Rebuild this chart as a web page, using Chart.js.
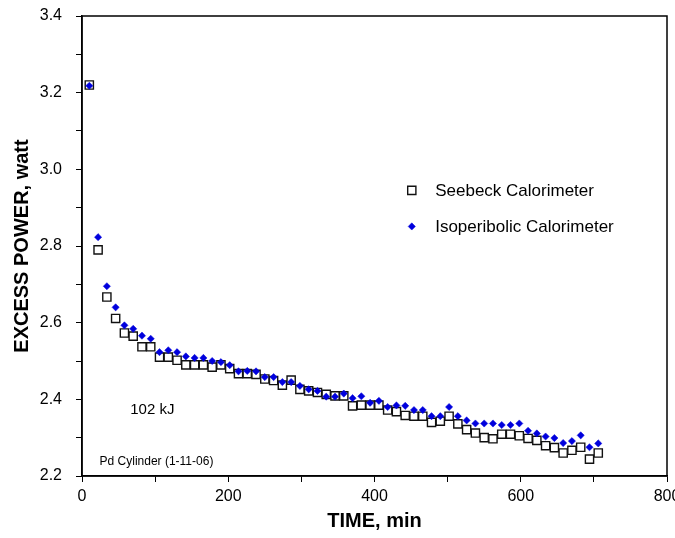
<!DOCTYPE html>
<html>
<head>
<meta charset="utf-8">
<script src="https://cdn.jsdelivr.net/npm/chart.js@4.4.1/dist/chart.umd.min.js"></script>
<style>
  html, body { margin: 0; padding: 0; background: #fff; }
</style>
</head>
<body>
<canvas id="myChart" width="675" height="538"></canvas>
<script>
// time of each reading, min
const times = [10, 22, 34, 46, 58, 70, 82, 94, 106, 118, 130, 142, 154, 166, 178, 190, 202, 214, 226, 238,
  250, 262, 274, 286, 298, 310, 322, 334, 346, 358, 370, 382, 394, 406, 418, 430, 442, 454, 466, 478,
  490, 502, 514, 526, 538, 550, 562, 574, 586, 598, 610, 622, 634, 646, 658, 670, 682, 694, 706];

// excess power, watt
const seebeck = [3.220, 2.790, 2.667, 2.611, 2.573, 2.565, 2.537, 2.537, 2.510, 2.510,
  2.502, 2.490, 2.490, 2.490, 2.484, 2.490, 2.480, 2.467, 2.467, 2.465,
  2.453, 2.449, 2.437, 2.450, 2.426, 2.422, 2.418, 2.413, 2.409, 2.409,
  2.383, 2.385, 2.385, 2.385, 2.372, 2.368, 2.358, 2.356, 2.356, 2.340,
  2.343, 2.356, 2.336, 2.321, 2.312, 2.300, 2.297, 2.309, 2.309, 2.305,
  2.298, 2.293, 2.279, 2.274, 2.260, 2.267, 2.275, 2.244, 2.260];

const isoperibolic = [3.218, 2.823, 2.695, 2.640, 2.593, 2.584, 2.566, 2.558, 2.523, 2.528,
  2.523, 2.512, 2.508, 2.508, 2.500, 2.497, 2.489, 2.473, 2.474, 2.473,
  2.458, 2.458, 2.445, 2.445, 2.435, 2.426, 2.422, 2.407, 2.407, 2.415,
  2.403, 2.408, 2.391, 2.396, 2.380, 2.384, 2.383, 2.372, 2.372, 2.356,
  2.356, 2.380, 2.356, 2.345, 2.337, 2.337, 2.337, 2.333, 2.333, 2.337,
  2.318, 2.311, 2.303, 2.299, 2.286, 2.291, 2.306, 2.275, 2.285];

const seriesNames = ["Seebeck Calorimeter", "Isoperibolic Calorimeter"];
const yTicks = [2.2, 2.4, 2.6, 2.8, 3.0, 3.2, 3.4];
const xTicks = [0, 200, 400, 600, 800];
const notes = ["102 kJ", "Pd Cylinder (1-11-06)"];

const FONT = "'Liberation Sans', Arial, sans-serif";

function toPoints(ys) {
  return ys.map((y, i) => ({ x: times[i], y: y }));
}

// box round the plot, the legend and the two notes
const extras = {
  id: "extras",
  afterDatasetsDraw(chart) {
    const { ctx, chartArea: a, scales: { x, y } } = chart;
    ctx.save();
    ctx.strokeStyle = "#000";
    ctx.lineWidth = 1.5;
    ctx.strokeRect(a.left, a.top, a.right - a.left, a.bottom - a.top);

    // legend
    const lx = x.getPixelForValue(451);
    const tx = x.getPixelForValue(483);
    const rows = [y.getPixelForValue(2.945), y.getPixelForValue(2.851)];
    chart.data.datasets.forEach((ds, i) => {
      ctx.fillStyle = ds.backgroundColor;
      ctx.strokeStyle = ds.borderColor;
      ctx.lineWidth = ds.borderWidth;
      Chart.helpers.drawPoint(ctx, {
        pointStyle: ds.pointStyle,
        radius: ds.pointRadius,
        borderWidth: ds.borderWidth,
        rotation: 0
      }, lx, rows[i]);
      ctx.fillStyle = "#000";
      ctx.font = "17px " + FONT;
      ctx.textBaseline = "middle";
      ctx.textAlign = "left";
      ctx.fillText(ds.label, tx, rows[i] + 1);
    });

    ctx.fillStyle = "#000";
    ctx.font = "15px " + FONT;
    ctx.textBaseline = "middle";
    ctx.fillText(notes[0], x.getPixelForValue(66), y.getPixelForValue(2.373));
    ctx.font = "12px " + FONT;
    ctx.fillText(notes[1], x.getPixelForValue(24), y.getPixelForValue(2.237));
    ctx.restore();
  }
};

new Chart(document.getElementById("myChart").getContext("2d"), {
  type: "scatter",
  data: {
    datasets: [
      {
        label: seriesNames[0],
        data: toPoints(seebeck),
        pointStyle: "rect",
        pointRadius: 5.8,
        pointHoverRadius: 5.8,
        backgroundColor: "#ffffff",
        borderColor: "#111111",
        borderWidth: 1.4,
        order: 1
      },
      {
        label: seriesNames[1],
        data: toPoints(isoperibolic),
        pointStyle: "rectRot",
        pointRadius: 3.6,
        pointHoverRadius: 3.6,
        backgroundColor: "#0000dd",
        borderColor: "#0000dd",
        borderWidth: 0.5,
        order: 0
      }
    ]
  },
  options: {
    responsive: false,
    animation: false,
    devicePixelRatio: 1,
    layout: { padding: { left: 0, right: 8, top: 16, bottom: 0 } },
    plugins: {
      legend: { display: false },
      tooltip: { enabled: false }
    },
    scales: {
      x: {
        type: "linear",
        min: 0,
        max: 800,
        ticks: {
          stepSize: 100,
          color: "#000",
          font: { family: FONT, size: 16 },
          padding: 5,
          maxRotation: 0,
          callback: (v) => (xTicks.includes(v) ? String(v) : "")
        },
        grid: { drawOnChartArea: false, drawTicks: true, tickLength: 6, tickColor: "#000", lineWidth: 1 },
        border: { display: true, color: "#000", width: 1.5 },
        title: {
          display: true,
          text: "TIME, min",
          color: "#000",
          font: { family: FONT, size: 20, weight: "bold" },
          padding: { top: 0, bottom: 5 }
        },
        afterFit: (s) => { s.height = 62; s.paddingLeft = 0; s.paddingRight = 0; }
      },
      y: {
        type: "linear",
        min: 2.2,
        max: 3.4,
        ticks: {
          stepSize: 0.1,
          color: "#000",
          font: { family: FONT, size: 16 },
          padding: 14,
          callback: (v) => {
            const t = yTicks.find((k) => Math.abs(k - v) < 1e-6);
            return t === undefined ? "" : t.toFixed(1);
          }
        },
        grid: { drawOnChartArea: false, drawTicks: true, tickLength: 6, tickColor: "#000", lineWidth: 1 },
        border: { display: true, color: "#000", width: 1.5 },
        title: {
          display: true,
          text: "EXCESS POWER, watt",
          color: "#000",
          font: { family: FONT, size: 20, weight: "bold" },
          padding: { top: 10, bottom: 0 }
        },
        afterFit: (s) => { s.width = 82; s.paddingTop = 0; s.paddingBottom = 0; }
      }
    }
  },
  plugins: [extras]
});
</script>
</body>
</html>
